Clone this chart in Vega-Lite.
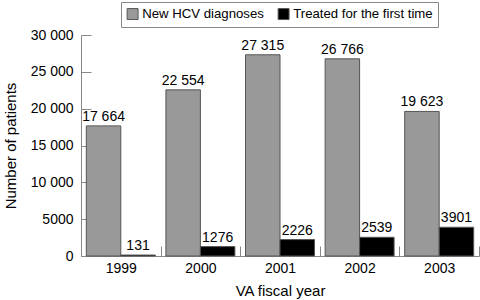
{
  "$schema": "https://vega.github.io/schema/vega-lite/v6.json",
  "width": 398,
  "height": 221,
  "autosize": "none",
  "padding": {"left": 81, "top": 35, "right": 1, "bottom": 44},
  "background": "white",
  "config": {
    "view": {"stroke": null},
    "font": "Liberation Sans"
  },
  "data": {
    "values": [
      {"year": "1999", "series": "New HCV diagnoses", "value": 17664},
      {"year": "1999", "series": "Treated for the first time", "value": 131},
      {"year": "2000", "series": "New HCV diagnoses", "value": 22554},
      {"year": "2000", "series": "Treated for the first time", "value": 1276},
      {"year": "2001", "series": "New HCV diagnoses", "value": 27315},
      {"year": "2001", "series": "Treated for the first time", "value": 2226},
      {"year": "2002", "series": "New HCV diagnoses", "value": 26766},
      {"year": "2002", "series": "Treated for the first time", "value": 2539},
      {"year": "2003", "series": "New HCV diagnoses", "value": 19623},
      {"year": "2003", "series": "Treated for the first time", "value": 3901}
    ]
  },
  "transform": [
    {"calculate": "datum.value >= 10000 ? replace(format(datum.value, ','), ',', ' ') : format(datum.value, 'd')", "as": "label"}
  ],
  "encoding": {
    "x": {
      "field": "year", "type": "nominal",
      "scale": {"paddingInner": 0, "paddingOuter": 0},
      "axis": {
        "title": "VA fiscal year", "titleFontSize": 15, "titleFontWeight": "normal", "titleColor": "#000", "titlePadding": 8,
        "labelAngle": 0, "labelFontSize": 14, "labelColor": "#000", "labelPadding": 15,
        "tickBand": "extent", "tickSize": -10, "tickColor": "#888", "domainColor": "#888"
      }
    },
    "xOffset": {
      "field": "series", "type": "nominal",
      "sort": ["New HCV diagnoses", "Treated for the first time"],
      "scale": {"paddingInner": 0, "paddingOuter": 0.154}
    },
    "y": {
      "field": "value", "type": "quantitative",
      "scale": {"domain": [0, 30000], "nice": false},
      "axis": {
        "title": "Number of patients", "titleFontSize": 15, "titleFontWeight": "normal", "titleColor": "#000", "titlePadding": 12,
        "values": [0, 5000, 10000, 15000, 20000, 25000, 30000],
        "labelExpr": "datum.value >= 10000 ? replace(format(datum.value, ','), ',', ' ') : format(datum.value, 'd')",
        "labelFontSize": 14, "labelColor": "#000", "labelPadding": 18,
        "grid": false, "tickSize": -10, "tickColor": "#888", "domainColor": "#888"
      }
    }
  },
  "layer": [
    {
      "mark": {"type": "bar", "stroke": "#555", "strokeWidth": 1},
      "encoding": {
        "color": {
          "field": "series", "type": "nominal",
          "scale": {"domain": ["New HCV diagnoses", "Treated for the first time"], "range": ["#999999", "#000000"]},
          "legend": {
            "title": null, "orient": "none", "direction": "horizontal",
            "legendX": 40, "legendY": -33,
            "strokeColor": "#888", "padding": 5,
            "symbolType": "square", "symbolSize": 120, "symbolStrokeColor": "#555", "symbolStrokeWidth": 1, "symbolOpacity": 1,
            "labelFontSize": 13.2, "labelColor": "#000", "labelOffset": 3, "columnPadding": 12
          }
        }
      }
    },
    {
      "mark": {"type": "text", "baseline": "bottom", "dy": -2, "fontSize": 14, "color": "#000"},
      "encoding": {"text": {"field": "label", "type": "nominal"}}
    }
  ]
}
